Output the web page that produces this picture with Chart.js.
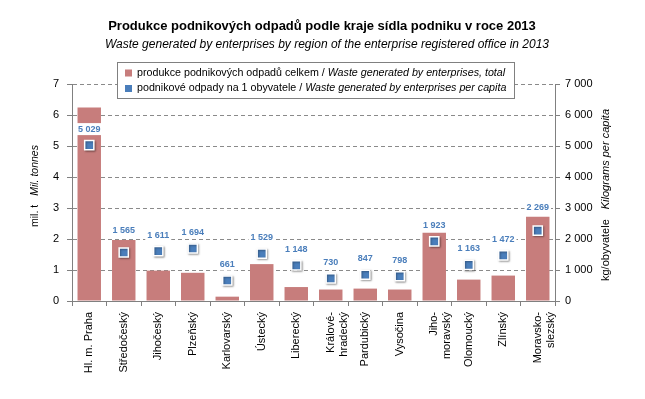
<!DOCTYPE html>
<html>
<head>
<meta charset="utf-8">
<script src="https://cdn.jsdelivr.net/npm/chart.js@4/dist/chart.umd.min.js"></script>
<style>
html,body{margin:0;padding:0;background:#fff;}
#wrap{width:645px;height:399px;position:relative;}
</style>
</head>
<body>
<div id="wrap"><canvas id="c" width="645" height="399"></canvas></div>
<script>
const categories = [
  "Hl. m. Praha", "Středočeský", "Jihočeský", "Plzeňský", "Karlovarský", "Ústecký",
  "Liberecký", ["Králové-", "hradecký"], "Pardubický", "Vysočina", ["Jiho-", "moravský"],
  "Olomoucký", "Zlínský", ["Moravsko-", "slezský"]
];
const totalWaste = [6.24, 1.97, 0.98, 0.91, 0.14, 1.19, 0.45, 0.37, 0.40, 0.37, 2.20, 0.69, 0.82, 2.72];
const perCapita = [5029, 1565, 1611, 1694, 661, 1529, 1148, 730, 847, 798, 1923, 1163, 1472, 2269];
const leftTicks = [0, 1, 2, 3, 4, 5, 6, 7];
const rightTicks = [0, 1000, 2000, 3000, 4000, 5000, 6000, 7000];

const titleText = "Produkce podnikových odpadů podle kraje sídla podniku v roce 2013";
const subtitleText = "Waste generated by enterprises by region of the enterprise registered office in 2013";
const legendItems = [
  {cz: "produkce podnikových odpadů celkem / ", en: "Waste generated by enterprises, total", color: "#C77D7C"},
  {cz: "podnikové odpady na 1 obyvatele / ", en: "Waste generated by enterprises per capita", color: "#4A7EBB"}
];

const FONT = "'Liberation Sans', Arial, sans-serif";
const fmt = v => String(v).replace(/\B(?=(\d{3})+(?!\d))/g, "\u00a0");

const decor = {
  id: "decor",
  beforeDatasetDraw(chart, args) {
    if (args.index === 1) {
      const ctx = chart.ctx;
      ctx.save();
      ctx.shadowColor = "rgba(0,0,0,0.35)";
      ctx.shadowBlur = 2;
      ctx.shadowOffsetX = 1;
      ctx.shadowOffsetY = 1;
    }
  },
  afterDatasetDraw(chart, args) {
    if (args.index === 1) chart.ctx.restore();
  },
  afterDraw(chart) {
    const ctx = chart.ctx;
    ctx.save();
    // titles
    ctx.fillStyle = "#000";
    ctx.textAlign = "center";
    ctx.textBaseline = "middle";
    ctx.font = "bold 13px " + FONT;
    ctx.fillText(titleText, 322, 26);
    ctx.font = "italic 12px " + FONT;
    ctx.fillText(subtitleText, 327, 45);

    // data labels
    const meta = chart.getDatasetMeta(1);
    const barMeta = chart.getDatasetMeta(0);
    ctx.font = "bold 9px " + FONT;
    meta.data.forEach((pt, i) => {
      const t = fmt(perCapita[i]);
      const w = ctx.measureText(t).width;
      let y = pt.y - 16;
      const barTop = barMeta.data[i].y;
      if (Math.abs(y - barTop) < 6.5) y = barTop - 9.5;
      ctx.fillStyle = "#fff";
      ctx.fillRect(pt.x - w / 2 - 2, y - 6, w + 4, 12);
      ctx.fillStyle = "#4A7EBB";
      ctx.fillText(t, pt.x, y);
    });

    // legend
    ctx.fillStyle = "#fff";
    ctx.fillRect(117.5, 62.5, 397, 36);
    ctx.strokeStyle = "#808080";
    ctx.lineWidth = 1;
    ctx.strokeRect(117.5, 62.5, 397, 36);
    ctx.textAlign = "left";
    legendItems.forEach((it, i) => {
      const y = 73 + i * 15.5;
      ctx.fillStyle = it.color;
      ctx.fillRect(125, y - 3.5, 7, 7);
      ctx.fillStyle = "#000";
      ctx.font = "10.7px " + FONT;
      ctx.fillText(it.cz, 137, y);
      const w = ctx.measureText(it.cz).width;
      ctx.font = "italic 10.7px " + FONT;
      ctx.fillText(it.en, 137 + w, y);
    });

    // axis titles
    const drawRot = (x, yBottom, size, parts) => {
      ctx.save();
      ctx.translate(x, yBottom);
      ctx.rotate(-Math.PI / 2);
      ctx.textAlign = "left";
      ctx.textBaseline = "middle";
      ctx.fillStyle = "#000";
      let off = 0;
      parts.forEach(p => {
        if (p.gap) { off += p.gap; return; }
        ctx.font = p.f + " " + size + "px " + FONT;
        ctx.fillText(p.t, off, 0);
        off += ctx.measureText(p.t).width;
      });
      ctx.restore();
    };
    drawRot(35, 227, 10.5, [{t: "mil. t", f: "normal"}, {gap: 9}, {t: "Mil. tonnes", f: "italic"}]);
    drawRot(606, 281, 11, [{t: "kg/obyvatele", f: "normal"}, {gap: 10}, {t: "Kilograms per capita", f: "italic"}]);
    ctx.restore();
  }
};

new Chart(document.getElementById("c"), {
  data: {
    labels: categories,
    datasets: [
      {
        type: "bar",
        label: legendItems[0].cz + legendItems[0].en,
        data: totalWaste,
        backgroundColor: "#C77D7C",
        borderWidth: 0,
        barPercentage: 0.68,
        categoryPercentage: 1,
        yAxisID: "y",
        order: 2
      },
      {
        type: "line",
        label: legendItems[1].cz + legendItems[1].en,
        data: perCapita,
        showLine: false,
        pointStyle: "rect",
        pointRadius: 6.5,
        pointBackgroundColor: "#4A7EBB",
        pointBorderColor: "#fff",
        pointBorderWidth: 1.5,
        yAxisID: "y2",
        order: 1
      }
    ]
  },
  options: {
    responsive: false,
    animation: false,
    events: [],
    layout: {padding: {left: 0, right: 0, top: 84, bottom: 0}},
    plugins: {legend: {display: false}, title: {display: false}, tooltip: {enabled: false}},
    scales: {
      x: {
        offset: true,
        grid: {display: true, drawOnChartArea: false, offset: true, color: "#808080", tickLength: 5, tickColor: "#808080"},
        border: {display: true, color: "#808080"},
        ticks: {
          autoSkip: false, maxRotation: 90, minRotation: 90, padding: 6,
          color: "#000", font: {family: FONT, size: 11}
        },
        afterFit(s) { s.height = 98; }
      },
      y: {
        position: "left",
        min: 0, max: 7,
        afterBuildTicks(s) { s.ticks = leftTicks.map(v => ({value: v})); },
        grid: {color: "#8a8a8a", tickLength: 5, tickColor: "#808080", drawTicks: true},
        border: {display: true, color: "#808080", dash: [4, 3]},
        ticks: {padding: 8, color: "#000", font: {family: FONT, size: 11}},
        afterFit(s) { s.width = 72; }
      },
      y2: {
        position: "right",
        min: 0, max: 7000,
        afterBuildTicks(s) { s.ticks = rightTicks.map(v => ({value: v})); },
        grid: {drawOnChartArea: false, tickLength: 5, tickColor: "#808080"},
        border: {display: true, color: "#808080"},
        ticks: {padding: 5, color: "#000", font: {family: FONT, size: 11}, callback: v => fmt(v)},
        afterFit(s) { s.width = 90; }
      }
    }
  },
  plugins: [decor]
});
</script>
</body>
</html>
